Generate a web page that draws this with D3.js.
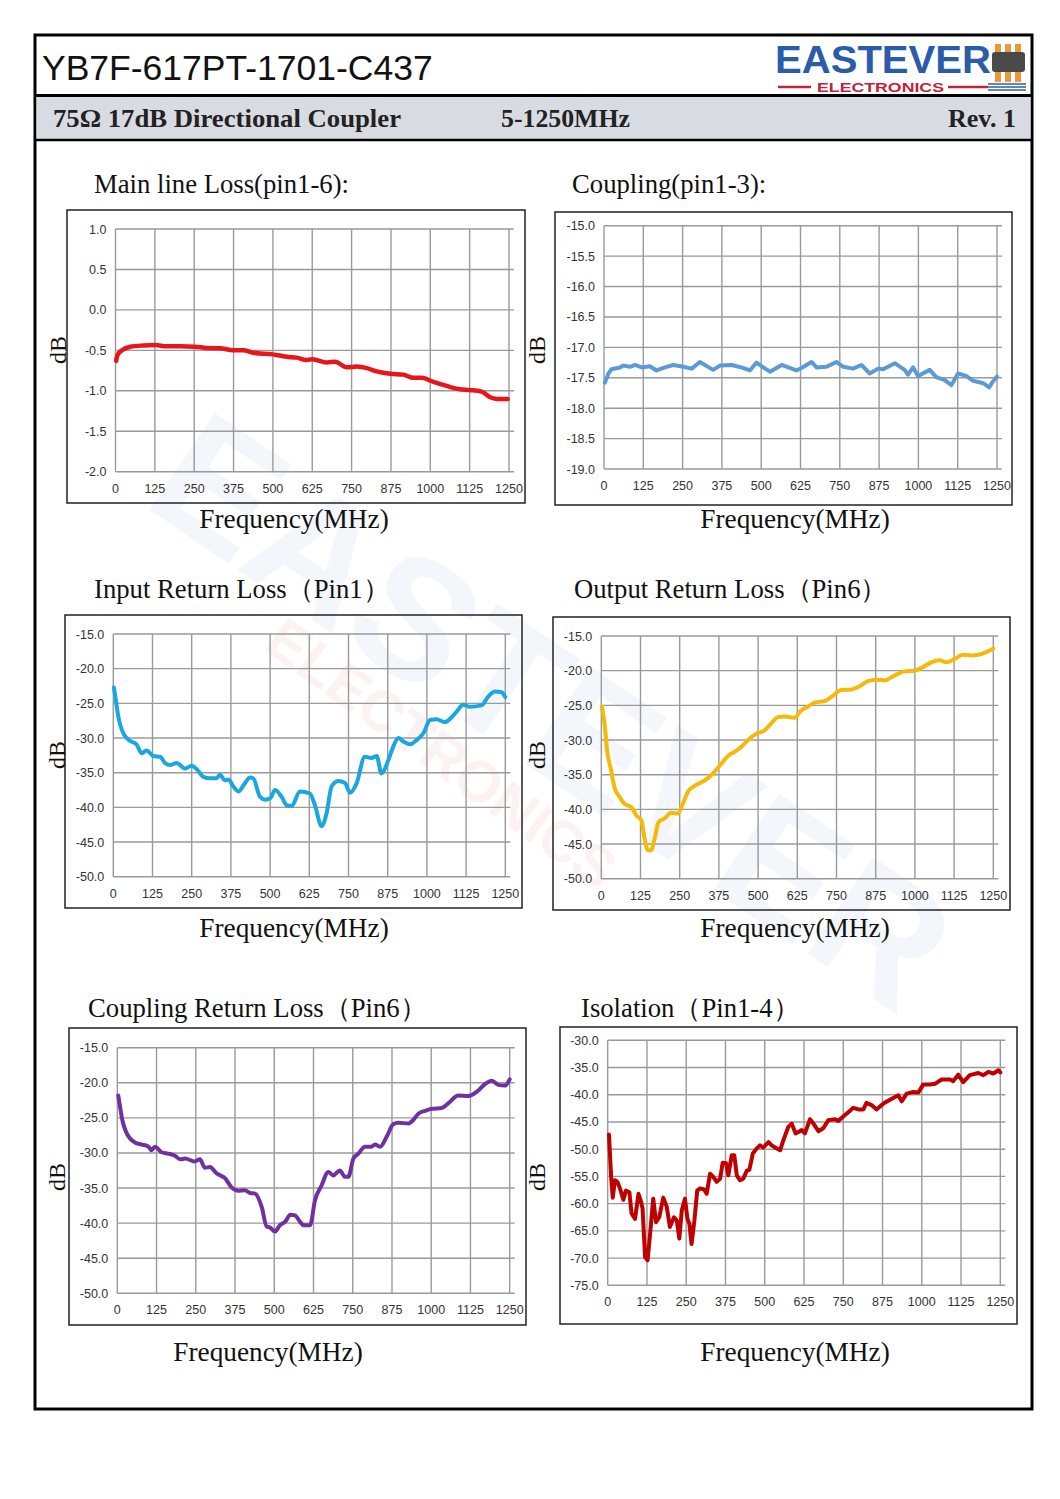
<!DOCTYPE html>
<html><head><meta charset="utf-8">
<script src="https://cdn.jsdelivr.net/npm/d3@7"></script>
<style>body{margin:0;background:#fff}</style>
</head><body><svg id="c" width="1060" height="1499"></svg>
<script>
// ---------- data ----------
const xTicks = [0,125,250,375,500,625,750,875,1000,1125,1250];

const mainLossFreq = [2,6,20,47,89,126,163,205,251,290,332,375,406,438,500,544,576,607,625,671,697,735,766,798,830,873,914,946,973,1010,1052,1094,1124,1163,1190,1211,1246];
const mainLossDb   = [-0.63,-0.56,-0.50,-0.455,-0.44,-0.435,-0.45,-0.45,-0.455,-0.47,-0.475,-0.50,-0.50,-0.53,-0.55,-0.58,-0.59,-0.62,-0.61,-0.65,-0.64,-0.71,-0.70,-0.72,-0.76,-0.79,-0.80,-0.84,-0.84,-0.89,-0.94,-0.98,-0.99,-1.01,-1.08,-1.10,-1.10];
const mainLossTicks = [1.0,0.5,0.0,-0.5,-1.0,-1.5,-2.0];

const couplingFreq = [3,14,24,51,61,83,99,120,146,167,194,220,252,279,305,347,369,406,437,464,485,501,528,565,612,628,660,676,708,739,761,792,819,845,872,888,925,956,967,983,999,1036,1057,1084,1105,1126,1152,1174,1206,1225,1237,1250];
const couplingDb   = [-17.58,-17.43,-17.36,-17.33,-17.30,-17.32,-17.29,-17.33,-17.31,-17.38,-17.33,-17.29,-17.32,-17.35,-17.24,-17.37,-17.30,-17.29,-17.33,-17.38,-17.25,-17.31,-17.40,-17.29,-17.38,-17.34,-17.24,-17.33,-17.32,-17.24,-17.32,-17.35,-17.29,-17.43,-17.35,-17.36,-17.26,-17.37,-17.45,-17.33,-17.47,-17.37,-17.49,-17.54,-17.62,-17.43,-17.47,-17.55,-17.59,-17.66,-17.56,-17.48];
const couplingTicks = [-15.0,-15.5,-16.0,-16.5,-17.0,-17.5,-18.0,-18.5,-19.0];

const inputRLFreq = [2,8,16,27,37,53,74,90,106,128,149,165,181,202,229,250,266,287,308,329,340,356,367,383,399,420,436,446,468,484,500,516,537,553,569,595,627,643,664,680,696,717,739,755,776,802,823,840,855,877,893,909,925,946,967,989,1010,1031,1058,1079,1095,1116,1137,1174,1196,1217,1238,1250];
const inputRLDb   = [-22.7,-24.5,-26.9,-28.8,-29.7,-30.4,-30.9,-32.2,-31.8,-32.6,-32.7,-33.6,-33.9,-33.6,-34.4,-34.0,-34.5,-35.6,-35.8,-35.8,-35.3,-36.1,-36.0,-37.0,-37.7,-36.5,-35.7,-35.8,-38.5,-38.9,-38.7,-37.5,-38.5,-39.7,-39.8,-37.7,-38.0,-39.7,-42.7,-40.9,-37.0,-36.2,-36.5,-37.9,-36.5,-32.7,-32.9,-32.6,-35.1,-33.2,-31.2,-30.0,-30.5,-30.9,-30.3,-29.3,-27.4,-27.3,-27.7,-27.0,-26.2,-25.2,-25.5,-25.3,-24.0,-23.3,-23.4,-24.1];

const outputRLFreq = [2,11,19,30,43,58,74,96,112,128,138,149,159,170,183,202,223,244,260,276,298,319,340,361,383,404,425,446,468,494,521,542,563,585,616,638,659,680,712,733,765,797,829,850,882,903,935,967,999,1025,1052,1079,1100,1127,1153,1180,1212,1233,1250];
const outputRLDb   = [-25.2,-27.9,-31.7,-34.1,-37.0,-38.2,-39.2,-39.7,-40.9,-41.6,-44.2,-45.9,-45.9,-44.2,-41.8,-41.3,-40.5,-40.6,-39.2,-37.5,-36.6,-36.1,-35.5,-34.6,-33.4,-32.3,-31.7,-31.0,-30.0,-29.1,-28.6,-27.6,-26.7,-26.6,-26.8,-25.7,-25.2,-24.6,-24.4,-23.8,-22.8,-22.7,-22.1,-21.5,-21.3,-21.4,-20.7,-20.1,-20.0,-19.5,-18.8,-18.5,-18.8,-18.3,-17.7,-17.8,-17.6,-17.2,-16.8];

const couplingRLFreq = [3,8,16,27,40,56,78,99,109,120,141,162,184,200,216,247,263,279,295,316,343,364,386,406,423,439,460,476,486,502,518,535,551,566,582,593,614,630,651,672,688,709,725,736,752,768,789,810,821,837,858,879,895,927,943,959,980,1002,1033,1055,1086,1118,1150,1171,1193,1214,1235,1250];
const couplingRLDb   = [-21.8,-23.2,-25.3,-26.9,-27.9,-28.5,-28.8,-29.1,-29.6,-29.1,-29.9,-30.1,-30.4,-30.9,-30.8,-31.2,-30.9,-32.1,-32.0,-32.9,-33.6,-34.9,-35.4,-35.3,-35.7,-35.8,-37.7,-40.5,-40.6,-41.2,-40.3,-39.8,-38.8,-38.9,-39.8,-40.3,-40.3,-36.7,-34.6,-32.7,-33.2,-32.5,-33.4,-33.4,-30.8,-30.1,-29.1,-29.1,-28.8,-29.1,-27.7,-25.9,-25.7,-25.8,-25.3,-24.4,-24.0,-23.7,-23.6,-22.9,-21.8,-21.9,-21.1,-20.2,-19.7,-20.3,-20.4,-19.5];
const rlTicks = [-15.0,-20.0,-25.0,-30.0,-35.0,-40.0,-45.0,-50.0];

const isolationFreq = [4,11,16,23,31,39,50,58,69,76,87,98,105,111,119,127,135,145,154,164,177,188,198,211,220,228,236,246,254,260,267,276,285,294,307,315,326,336,347,358,366,377,384,395,403,411,421,432,443,451,462,474,485,495,512,522,533,549,559,575,586,598,618,628,644,655,671,687,702,724,734,750,766,782,798,814,824,840,856,878,893,915,925,936,952,973,989,1005,1026,1042,1063,1090,1100,1116,1132,1153,1180,1196,1212,1228,1244,1250];
const isolationDb   = [-47.3,-55.1,-58.9,-55.7,-56.0,-57.2,-59.3,-57.6,-57.9,-61.8,-62.8,-58.2,-59.4,-60.9,-69.8,-70.4,-65.5,-59.1,-63.4,-62.5,-58.9,-60.6,-64.3,-62.5,-63.1,-66.4,-61.2,-59.1,-62.8,-63.7,-67.4,-63.1,-57.6,-57.2,-57.4,-58.2,-54.5,-55.1,-56.0,-55.4,-52.5,-52.6,-54.8,-51.1,-51.1,-54.8,-55.7,-55.4,-53.9,-53.8,-50.8,-49.9,-49.3,-49.7,-48.7,-49.3,-49.7,-50.2,-48.4,-45.9,-45.3,-47.1,-46.5,-47.1,-44.5,-45.3,-46.7,-46.1,-44.7,-44.5,-44.8,-44.0,-43.2,-42.4,-42.7,-42.7,-41.5,-41.9,-42.7,-41.6,-41.1,-40.4,-40.1,-41.2,-39.8,-39.5,-39.6,-38.1,-38.1,-38.0,-37.2,-37.2,-37.5,-36.3,-37.7,-36.4,-36.0,-36.4,-35.8,-36.1,-35.5,-35.9];
const isolationTicks = [-30.0,-35.0,-40.0,-45.0,-50.0,-55.0,-60.0,-65.0,-70.0,-75.0];

// ---------- drawing ----------
const svg = d3.select("#c");
const SERIF = "'Liberation Serif','DejaVu Serif',serif";
const SANS = "'Liberation Sans',Arial,sans-serif";

// watermark
const wm = svg.append("g").attr("opacity", 0.05);
wm.append("text").attr("transform","translate(520,760) rotate(34)")
  .attr("text-anchor","middle").attr("font-family",SANS).attr("font-weight","bold")
  .attr("font-size",170).attr("fill","#2a5caa").text("EASTEVER");
wm.append("text").attr("transform","translate(430,770) rotate(36)")
  .attr("text-anchor","middle").attr("font-family",SANS).attr("font-weight","bold")
  .attr("font-size",58).attr("fill","#d0202a").text("ELECTRONICS");

// outer frame and header
svg.append("rect").attr("x",35).attr("y",35).attr("width",997).attr("height",1374)
  .attr("fill","none").attr("stroke","#000").attr("stroke-width",3);
svg.append("rect").attr("x",36.5).attr("y",96).attr("width",994).attr("height",44).attr("fill","#d9dbe3");
svg.append("line").attr("x1",35).attr("x2",1032).attr("y1",95.5).attr("y2",95.5).attr("stroke","#000").attr("stroke-width",3);
svg.append("line").attr("x1",35).attr("x2",1032).attr("y1",140).attr("y2",140).attr("stroke","#000").attr("stroke-width",2.5);

svg.append("text").attr("x",42).attr("y",80).attr("font-family",SANS).attr("font-size",35.5)
  .attr("fill","#111").text("YB7F-617PT-1701-C437");
const sub = svg.append("g").attr("font-family",SERIF).attr("font-weight","bold").attr("font-size",25).attr("fill","#222");
sub.append("text").attr("x",53).attr("y",127).attr("textLength",348).attr("lengthAdjust","spacingAndGlyphs").text("75Ω  17dB Directional Coupler");
sub.append("text").attr("x",501).attr("y",127).attr("textLength",129).attr("lengthAdjust","spacingAndGlyphs").text("5-1250MHz");
sub.append("text").attr("x",948).attr("y",127).attr("textLength",68).attr("lengthAdjust","spacingAndGlyphs").text("Rev. 1");

// logo
const logo = svg.append("g");
logo.append("text").attr("x",775).attr("y",73).attr("font-family",SANS).attr("font-weight","bold")
  .attr("font-size",38).attr("textLength",216).attr("lengthAdjust","spacingAndGlyphs")
  .attr("fill","#2a5caa").text("EASTEVER");
logo.append("line").attr("x1",778).attr("x2",811).attr("y1",87).attr("y2",87).attr("stroke","#c4213b").attr("stroke-width",2.5);
logo.append("line").attr("x1",948).attr("x2",988).attr("y1",87).attr("y2",87).attr("stroke","#c4213b").attr("stroke-width",2.5);
logo.append("text").attr("x",817).attr("y",92).attr("font-family",SANS).attr("font-weight","bold")
  .attr("font-size",12).attr("textLength",127).attr("lengthAdjust","spacingAndGlyphs")
  .attr("fill","#c4213b").text("ELECTRONICS");
[0,1,2].forEach(i=>{
  logo.append("rect").attr("x",995+i*10).attr("y",44).attr("width",6).attr("height",10).attr("fill","#e79a3b");
  logo.append("rect").attr("x",995+i*10).attr("y",70).attr("width",6).attr("height",12).attr("fill","#e79a3b");
});
logo.append("rect").attr("x",992).attr("y",52).attr("width",33).attr("height",20).attr("rx",3).attr("fill","#4a4a4a");
[0,1,2].forEach(i=>logo.append("line").attr("x1",988).attr("x2",1026).attr("y1",84+i*3).attr("y2",84+i*3).attr("stroke","#2a5caa").attr("stroke-width",1.5));

function drawChart(o){
  const g = svg.append("g");
  g.append("rect").attr("x",o.frame[0]).attr("y",o.frame[1]).attr("width",o.frame[2]-o.frame[0]).attr("height",o.frame[3]-o.frame[1])
    .attr("fill","none").attr("stroke","#222").attr("stroke-width",1.5);
  const x = d3.scaleLinear().domain([0,1250]).range([o.l,o.r]);
  const y = d3.scaleLinear().domain([o.ticks[o.ticks.length-1],o.ticks[0]]).range([o.b,o.t]);
  const grid = g.append("g").attr("stroke","#9a9a9a").attr("stroke-width",1.4);
  o.ticks.forEach(v=>grid.append("line").attr("x1",o.l).attr("x2",o.r+5).attr("y1",y(v)).attr("y2",y(v)));
  xTicks.forEach(v=>grid.append("line").attr("x1",x(v)).attr("x2",x(v)).attr("y1",o.t).attr("y2",o.b));
  const lab = g.append("g").attr("font-family",SANS).attr("font-size",12.5).attr("fill","#333");
  o.ticks.forEach(v=>lab.append("text").attr("x",o.l-9).attr("y",y(v)+4.5).attr("text-anchor","end").text(v.toFixed(1)));
  xTicks.forEach(v=>lab.append("text").attr("x",x(v)).attr("y",o.b+21).attr("text-anchor","middle").text(v));
  const data = o.freq.map((f,i)=>[f,o.vals[i]]);
  const line = d3.line().x(d=>x(d[0])).y(d=>y(d[1])).curve(o.curve||d3.curveMonotoneX);
  g.append("path").attr("d",line(data)).attr("fill","none").attr("stroke",o.color)
    .attr("stroke-width",o.sw||4).attr("stroke-linejoin","round").attr("stroke-linecap","round");
  const tx = g.append("g").attr("font-family",SERIF).attr("fill","#111");
  tx.append("text").attr("x",o.title[0]).attr("y",o.title[1]).attr("font-size",26.7).text(o.title[2]);
  tx.append("text").attr("transform",`translate(${o.db[0]},${o.db[1]}) rotate(-90)`).attr("text-anchor","middle").attr("font-size",24).text("dB");
  tx.append("text").attr("x",o.fq[0]).attr("y",o.fq[1]).attr("text-anchor","middle").attr("font-size",27.3).text("Frequency(MHz)");
}

drawChart({frame:[67,210,525,503], l:115.5,r:509,t:229,b:471.7, ticks:mainLossTicks, freq:mainLossFreq, vals:mainLossDb, color:"#e8161b", sw:4.5,
  title:[94,193,"Main line Loss(pin1-6):"], db:[66,350], fq:[294,528]});
drawChart({frame:[555,212,1012,505], l:604,r:997,t:225.7,b:469, ticks:couplingTicks, freq:couplingFreq, vals:couplingDb, color:"#5b9bd5", sw:4, curve:d3.curveLinear,
  title:[572,193,"Coupling(pin1-3):"], db:[545,350], fq:[795,528]});
drawChart({frame:[65,615,522,908], l:113.3,r:505.3,t:634,b:876.7, ticks:rlTicks, freq:inputRLFreq, vals:inputRLDb, color:"#1aa7e0",
  title:[94,598,"Input Return Loss（Pin1）"], db:[65,755], fq:[294,937]});
drawChart({frame:[553,617,1010,910], l:601.3,r:993.3,t:636,b:878.7, ticks:rlTicks, freq:outputRLFreq, vals:outputRLDb, color:"#f5b90a",
  title:[574,598,"Output Return Loss（Pin6）"], db:[545,755], fq:[795,937]});
drawChart({frame:[69,1028,526,1325], l:117.3,r:509.7,t:1047.7,b:1293.3, ticks:rlTicks, freq:couplingRLFreq, vals:couplingRLDb, color:"#7030a0",
  title:[88,1017,"Coupling Return Loss（Pin6）"], db:[65,1177], fq:[268,1361]});
drawChart({frame:[560,1027,1017,1324], l:607.7,r:1000.3,t:1040.3,b:1285.3, ticks:isolationTicks, freq:isolationFreq, vals:isolationDb, color:"#c00000", curve:d3.curveLinear,
  title:[581,1017,"Isolation（Pin1-4）"], db:[545,1177], fq:[795,1361]});
</script></body></html>
